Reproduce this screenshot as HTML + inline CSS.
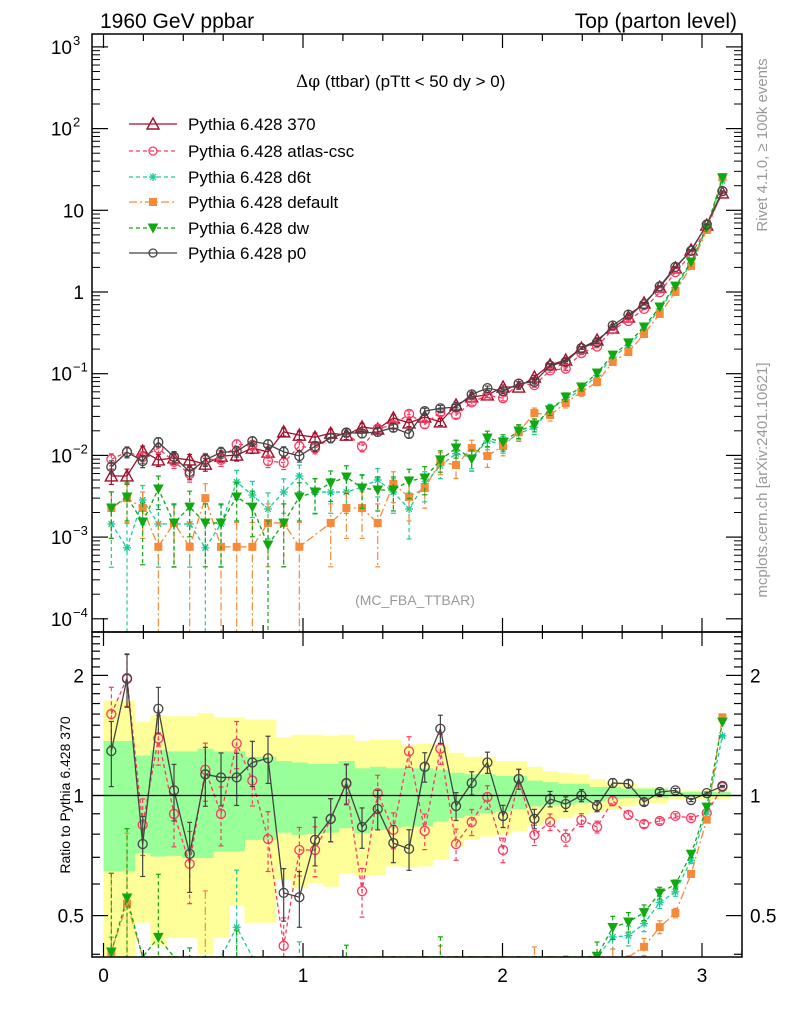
<!DOCTYPE html>
<html><head><meta charset="utf-8"><style>
html,body{margin:0;padding:0;background:#fff;width:786px;height:1024px;overflow:hidden;}
svg{display:block;font-family:"Liberation Sans",sans-serif;}
</style></head><body>
<svg id="chart" width="786" height="1024" viewBox="0 0 786 1024" xmlns="http://www.w3.org/2000/svg">
<defs>
<clipPath id="cTop"><rect x="92" y="34" width="650" height="598"/></clipPath>
<clipPath id="cBot"><rect x="92" y="632" width="650" height="325"/></clipPath>
</defs>
<g id="bands" clip-path="url(#cBot)"></g>
<g id="series"></g>
<g id="axes"></g>
<text x="100" y="28" font-size="21">1960 GeV ppbar</text>
<text x="737" y="28" font-size="21" text-anchor="end">Top (parton level)</text>
<text x="296" y="87" font-size="17"><tspan font-family="DejaVu Serif, serif">Δφ</tspan> (ttbar) (pTtt &lt; 50 dy &gt; 0)</text>
<text x="415" y="605" font-size="14" fill="#999" text-anchor="middle">(MC_FBA_TTBAR)</text>
<text transform="translate(767,145) rotate(-90)" font-size="15" fill="#999" text-anchor="middle">Rivet 4.1.0, ≥ 100k events</text>
<text transform="translate(767,480) rotate(-90)" font-size="15" fill="#999" text-anchor="middle">mcplots.cern.ch [arXiv:2401.10621]</text>
<text transform="translate(70,795) rotate(-90)" font-size="14" text-anchor="middle">Ratio to Pythia 6.428 370</text>
<g id="legend"></g>
</svg>
<script>
const categories = Array.from({length:40},(_, i)=>(i+0.5)*Math.PI/40);
const ref370 = [0.0056,0.0056,0.0113,0.0088,0.0093,0.0088,0.0078,0.0098,0.0101,0.0123,0.011,0.0194,0.0177,0.0167,0.0187,0.0177,0.0223,0.021,0.0287,0.025,0.0295,0.0257,0.0414,0.0519,0.055,0.0687,0.0687,0.091,0.128,0.147,0.206,0.258,0.362,0.494,0.733,1.15,1.97,3.27,6.6,16.3];
const atlasRatio = [1.60,1.97,0.844,1.39,0.899,0.674,1.16,0.899,1.35,1.09,0.778,0.42,0.73,0.73,0.873,1.07,0.576,1.014,0.82,1.29,0.815,1.31,0.756,0.858,0.991,0.73,1.10,0.796,0.858,0.783,0.868,0.834,0.969,0.894,0.848,0.863,0.889,0.878,0.904,1.05];
const p0Ratio = [1.293,1.96,0.756,1.65,1.03,0.714,1.13,1.11,1.11,1.21,1.24,0.57,0.556,0.774,0.874,1.075,0.834,0.925,0.76,0.735,1.18,1.47,0.941,1.075,1.21,0.888,1.10,0.874,0.98,0.952,1.0,0.941,1.075,1.07,0.963,1.02,1.03,0.974,1.014,1.056];
const d6tVals = [0.00145,0.00074,0.00285,0.00145,0.00145,0.00145,0.00074,0.00145,0.00472,0.00327,0.00221,0.00356,0.0056,0.00356,0.00356,0.00356,0.0041,0.005,0.00356,0.00221,0.0045,0.0075,0.0105,0.0095,0.015,0.0138,0.0185,0.022,0.037,0.048,0.064,0.095,0.16,0.22,0.35,0.62,1.13,2.25,6.0,23.0];
const defaultVals = [0.00227,0.003,0.00227,0.00076,0.00149,0.00076,0.003,0.00076,0.00076,0.00076,0.00149,0.00149,0.00076,0,0.00149,0.00227,0.00227,0.00149,0.00447,0.0031,0.00399,0.0083,0.00763,0.0123,0.00984,0.013,0.0193,0.033,0.0312,0.0438,0.0597,0.0791,0.139,0.184,0.306,0.538,1.0,2.08,5.74,25.6];
const dwVals = [0.00227,0.0031,0.00153,0.00388,0.00149,0.00233,0.00149,0.00149,0.0031,0.00233,0.0008,0.00149,0.0031,0.00356,0.00459,0.00544,0.00399,0.00377,0.00377,0.00486,0.00529,0.0088,0.0123,0.00904,0.0163,0.0146,0.0199,0.0236,0.036,0.0519,0.0687,0.102,0.169,0.238,0.373,0.655,1.18,2.33,6.17,24.9];
const yellowTop = [1.73,1.73,1.53,1.59,1.58,1.58,1.61,1.57,1.57,1.55,1.55,1.40,1.42,1.42,1.41,1.42,1.37,1.38,1.38,1.34,1.35,1.34,1.28,1.25,1.25,1.22,1.22,1.18,1.15,1.14,1.13,1.10,1.08,1.07,1.05,1.05,1.03,1.03,1.03,1.03];
const yellowBot = [0.3,0.3,0.48,0.42,0.44,0.44,0.40,0.44,0.53,0.48,0.48,0.615,0.586,0.603,0.591,0.638,0.627,0.632,0.664,0.658,0.664,0.69,0.745,0.774,0.789,0.797,0.813,0.844,0.861,0.877,0.895,0.912,0.92,0.939,0.957,0.957,0.979,0.979,0.979,0.979];
const greenTop = [1.37,1.37,1.26,1.30,1.29,1.29,1.31,1.29,1.29,1.25,1.25,1.22,1.21,1.20,1.20,1.22,1.17,1.18,1.17,1.17,1.17,1.16,1.14,1.13,1.13,1.12,1.12,1.09,1.08,1.07,1.07,1.05,1.05,1.04,1.04,1.04,1.02,1.02,1.02,1.02];
const greenBot = [0.645,0.645,0.717,0.703,0.706,0.697,0.697,0.724,0.724,0.774,0.774,0.807,0.797,0.802,0.807,0.828,0.804,0.82,0.828,0.836,0.836,0.861,0.877,0.889,0.903,0.912,0.924,0.939,0.947,0.947,0.957,0.966,0.979,0.985,0.985,0.985,0.994,0.994,0.994,0.994];
const xTicks = [0,1,2,3];
const yTickExp = [-4,-3,-2,-1,0,1,2,3];
const yTickLabels = ["10","10","10","10","1","10","10","10"];
const ratioTicks = [0.5,1,2];
const ratioTickLabels = ["0.5","1","2"];
const seriesNames = ["Pythia 6.428 370","Pythia 6.428 atlas-csc","Pythia 6.428 d6t","Pythia 6.428 default","Pythia 6.428 dw","Pythia 6.428 p0"];

const NS="http://www.w3.org/2000/svg";
const X0=103.5, XS=199.5;
const sx=v=>X0+v*XS;
const sy=v=>292-Math.log10(v)*81.7;
const sr=r=>795.5-Math.log10(r)*399;
const halfW = Math.PI/80;
function mk(tag,attrs,parent){const e=document.createElementNS(NS,tag);for(const k in attrs)e.setAttribute(k,attrs[k]);parent.appendChild(e);return e;}

const atlasVals = ref370.map((v,i)=>v*atlasRatio[i]);
const p0Vals = ref370.map((v,i)=>v*p0Ratio[i]);
const styles=[
 {vals:ref370,c:"#a0102a",dash:"",m:"tri",w:0.00025,name:"ref-370"},
 {vals:atlasVals,c:"#ff3860",dash:"4,3",m:"circ",w:0.00025,name:"atlas-csc"},
 {vals:d6tVals,c:"#1ccc99",dash:"4,3",m:"star",w:0.00072,name:"d6t"},
 {vals:defaultVals,c:"#f58b3a",dash:"8,3,2,3",m:"sq",w:0.00075,name:"default"},
 {vals:dwVals,c:"#11a811",dash:"4,3",m:"dtri",w:0.00075,name:"dw"},
 {vals:p0Vals,c:"#444444",dash:"",m:"circ",w:0.00025,name:"p0"}];

// bands
const bg=document.getElementById('bands');
categories.forEach((c,i)=>{
 const x1=sx(c-halfW), x2=sx(c+halfW);
 const y1=Math.max(sr(yellowTop[i]),632), y2=Math.min(sr(yellowBot[i]),957);
 const y=mk('rect',{x:x1,y:y1,width:x2-x1+0.5,height:y2-y1,fill:"#ffff99"},bg);
 
 
});
categories.forEach((c,i)=>{
 const x1=sx(c-halfW), x2=sx(c+halfW);
 const g=mk('rect',{x:x1,y:sr(greenTop[i]),width:x2-x1+0.5,height:sr(greenBot[i])-sr(greenTop[i]),fill:"#99ff99"},bg);
 
 
});
const refLine=mk('line',{x1:92,x2:742,y1:sr(1),y2:sr(1),stroke:"#000","stroke-width":1.3},document.getElementById('axes'));



function marker(g,type,x,y,c,s){
 if(type==="tri") mk('polygon',{points:`${x},${y-6} ${x-6},${y+5} ${x+6},${y+5}`,fill:"none",stroke:c,"stroke-width":1.4},g);
 else if(type==="dtri") mk('polygon',{points:`${x-4.5},${y-4} ${x+4.5},${y-4} ${x},${y+4.5}`,fill:c,stroke:c},g);
 else if(type==="circ") mk('circle',{cx:x,cy:y,r:s||4.5,fill:"none",stroke:c,"stroke-width":1.3},g);
 else if(type==="sq") mk('rect',{x:x-4,y:y-4,width:8,height:8,fill:c},g);
 else if(type==="star"){for(let a=0;a<4;a++){const t=a*Math.PI/4;mk('line',{x1:x-4*Math.cos(t),y1:y-4*Math.sin(t),x2:x+4*Math.cos(t),y2:y+4*Math.sin(t),stroke:c,"stroke-width":1.3},g);}}
}
const sg=document.getElementById('series');
function drawPanel(clip,fy,getV,getErr,skipRef,yMin,yMax){
 const cl=v=>Math.max(yMin,Math.min(yMax,v));
 styles.forEach((s,si)=>{
  if(skipRef && s.name==='ref-370') return;
  const g=mk('g',{"clip-path":`url(#${clip})`},sg);
  
  
  let pts=[];
  categories.forEach((c,i)=>{const v=getV(s,i); if(v>0) pts.push([sx(c),fy(v),v,i]);});
  mk('polyline',{points:pts.map(p=>p[0]+","+cl(p[1])).join(" "),fill:"none",stroke:s.c,"stroke-width":1.3,"stroke-dasharray":s.dash},g);
  pts.forEach(p=>{
   const e=getErr(s,p[3]); const lo=p[2]-e, hi=p[2]+e;
   const yl=cl(lo>0?fy(lo):yMax), yh=cl(fy(hi));
   mk('line',{x1:p[0],x2:p[0],y1:yh,y2:yl,stroke:s.c,"stroke-width":1.2,"stroke-dasharray":s.dash},g);
   mk('line',{x1:p[0]-2.5,x2:p[0]+2.5,y1:yh,y2:yh,stroke:s.c,"stroke-width":1.2},g);
   if(lo>0)mk('line',{x1:p[0]-2.5,x2:p[0]+2.5,y1:yl,y2:yl,stroke:s.c,"stroke-width":1.2},g);
   if(p[1]>yMin-8 && p[1]<yMax+8) marker(g,s.m,p[0],p[1],s.c);
  });
 });
}
const relErr=(s,i)=>{const v=s.vals[i];return v>0?1/Math.sqrt(v/s.w):0;};
drawPanel('cTop',sy,(s,i)=>s.vals[i],(s,i)=>s.vals[i]*relErr(s,i),false,34,632);
drawPanel('cBot',sr,(s,i)=>s.vals[i]/ref370[i],(s,i)=>s.vals[i]/ref370[i]*relErr(s,i),true,632,957);

// axes
const ax=document.getElementById('axes');
mk('rect',{x:92,y:34,width:650,height:598,fill:"none",stroke:"#000","stroke-width":1.5},ax);
mk('rect',{x:92,y:632,width:650,height:325,fill:"none",stroke:"#000","stroke-width":1.5},ax);
for(let v=0;v<=3.2001;v+=0.2){const x=sx(v);const major=Math.abs(v-Math.round(v))<1e-6;const L=major?14:7;
 [[34,34+L],[957,957-L],[632,632-L],[632,632+L]].forEach(([a,b])=>mk('line',{x1:x,x2:x,y1:a,y2:b,stroke:"#000","stroke-width":1.2},ax));}
xTicks.forEach(v=>{const t=mk('text',{x:sx(v),y:982,"font-size":19,"text-anchor":"middle"},ax);t.textContent=String(v);
 
 });
yTickExp.forEach((e,k)=>{const y=sy(Math.pow(10,e));
 mk('line',{x1:92,x2:108,y1:y,y2:y,stroke:"#000","stroke-width":1.2},ax);
 mk('line',{x1:742,x2:726,y1:y,y2:y,stroke:"#000","stroke-width":1.2},ax);
 for(let m=2;m<=9;m++){const ym=sy(m*Math.pow(10,e));if(ym<34)continue;
  mk('line',{x1:92,x2:100,y1:ym,y2:ym,stroke:"#000"},ax);mk('line',{x1:742,x2:734,y1:ym,y2:ym,stroke:"#000"},ax);}
 const t=mk('text',{x:e===0?84:(e===1?84:72),y:y+7,"font-size":19,"text-anchor":"end"},ax);
 t.textContent=yTickLabels[k];
 
 
 if(e!==0&&e!==1){const s=mk('text',{x:73,y:y-2,"font-size":13},ax);s.textContent=(e<0?"−":"")+Math.abs(e);}
});
for(let r=0.4;r<2.6;r+=0.1){const y=sr(r);if(y<632||y>957)continue;const major=ratioTicks.some(t=>Math.abs(t-r)<1e-6);const L=major?16:8;
 mk('line',{x1:92,x2:92+L,y1:y,y2:y,stroke:"#000","stroke-width":1.2},ax);mk('line',{x1:742,x2:742-L,y1:y,y2:y,stroke:"#000","stroke-width":1.2},ax);}
ratioTicks.forEach((r,k)=>{const y=sr(r);
 const a=mk('text',{x:84,y:y+7,"font-size":19,"text-anchor":"end"},ax);a.textContent=ratioTickLabels[k];
 
 
 const b=mk('text',{x:750,y:y+7,"font-size":19},ax);b.textContent=ratioTickLabels[k];
 
 });

// legend
const lg=document.getElementById('legend');
const legY=[124,151,177,202,228,253];
styles.forEach((s,i)=>{const g=mk('g',{},lg);
 
 
 mk('line',{x1:129,x2:177,y1:legY[i],y2:legY[i],stroke:s.c,"stroke-width":1.3,"stroke-dasharray":s.dash},g);
 marker(g,s.m,153,legY[i],s.c,s.m==='circ'?4:undefined);
 const t=mk('text',{x:188,y:legY[i]+6,"font-size":17},g);t.textContent=seriesNames[i];});
</script>
</body></html>
